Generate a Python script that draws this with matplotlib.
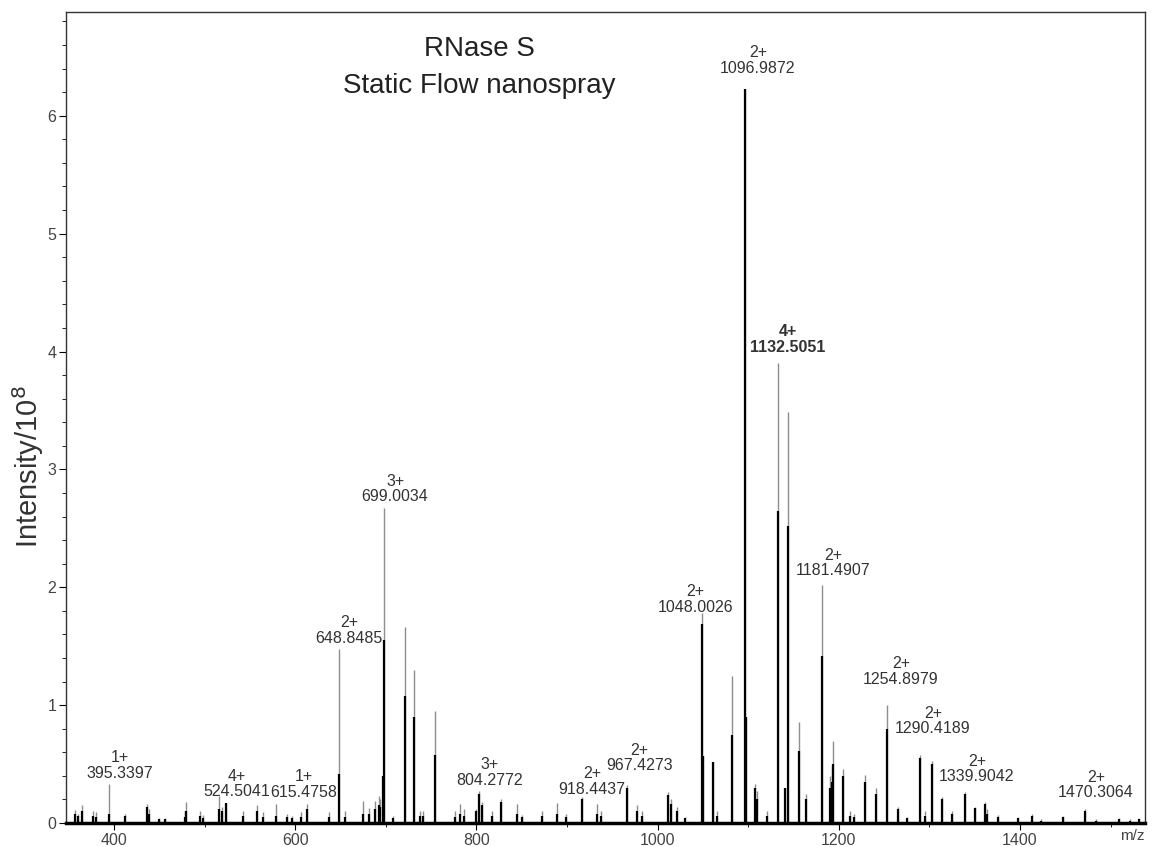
import matplotlib
matplotlib.use('Agg')
import matplotlib.pyplot as plt
from matplotlib.ticker import MultipleLocator

plt.rcParams['font.family'] = ['Liberation Sans', 'DejaVu Sans']

# peak list: m/z, full (grey) height, centroid (black) height, in 1e8 counts
peak_mz = [357, 360, 365, 377, 380, 394.5, 412, 436, 439, 450, 456, 478, 480, 495, 498,
           516, 519, 524, 542, 558, 564, 579, 591, 597, 606, 613, 637, 648.3, 655, 675,
           681, 688, 692, 694, 697, 698.5, 708, 721, 731, 738, 741, 754, 776, 782, 786,
           800, 803, 806, 817, 827, 845, 850, 872, 889, 899, 917, 933, 938, 966, 977,
           983, 1011, 1015, 1021, 1030, 1049, 1050, 1061, 1066, 1082, 1096.5, 1097.5, 1108, 1110, 1121,
           1133, 1141, 1144, 1156, 1164, 1181.5, 1190, 1192, 1194, 1205, 1212, 1217, 1229, 1241, 1253.5,
           1265, 1275, 1290, 1295, 1303, 1314, 1325, 1339, 1350, 1361, 1364, 1376, 1398, 1413, 1423,
           1448, 1472, 1484, 1509, 1522, 1531]
peak_full = [0.11, 0.08, 0.15, 0.10, 0.09, 0.33, 0.08, 0.16, 0.12, 0.04, 0.04, 0.10, 0.18, 0.10, 0.07,
             0.23, 0.14, 0.17, 0.10, 0.15, 0.09, 0.16, 0.08, 0.06, 0.09, 0.16, 0.09, 1.48, 0.10, 0.19,
             0.13, 0.19, 0.23, 0.20, 0.40, 2.67, 0.06, 1.66, 1.30, 0.10, 0.10, 0.95, 0.10, 0.16, 0.12,
             0.12, 0.27, 0.18, 0.10, 0.20, 0.16, 0.07, 0.10, 0.17, 0.08, 0.22, 0.16, 0.10, 0.32, 0.15,
             0.10, 0.26, 0.20, 0.14, 0.05, 1.78, 0.57, 0.52, 0.10, 1.25, 6.23, 0.90, 0.33, 0.27, 0.10,
             3.90, 0.30, 3.49, 0.86, 0.25, 2.02, 0.40, 0.48, 0.70, 0.46, 0.10, 0.08, 0.41, 0.30, 1.00,
             0.14, 0.05, 0.58, 0.10, 0.53, 0.22, 0.10, 0.26, 0.14, 0.18, 0.12, 0.07, 0.05, 0.08, 0.03,
             0.06, 0.115, 0.03, 0.04, 0.03, 0.04]
peak_centroid = [0.08, 0.06, 0.10, 0.06, 0.05, 0.08, 0.06, 0.14, 0.08, 0.03, 0.03, 0.05, 0.10, 0.06, 0.04,
                 0.12, 0.10, 0.17, 0.06, 0.10, 0.05, 0.06, 0.05, 0.04, 0.05, 0.12, 0.05, 0.42, 0.05, 0.08,
                 0.08, 0.12, 0.15, 0.14, 0.40, 1.55, 0.04, 1.08, 0.90, 0.06, 0.06, 0.58, 0.05, 0.08, 0.06,
                 0.10, 0.25, 0.15, 0.06, 0.18, 0.08, 0.05, 0.06, 0.08, 0.05, 0.20, 0.08, 0.06, 0.30, 0.10,
                 0.06, 0.24, 0.16, 0.10, 0.04, 1.69, 0.57, 0.52, 0.06, 0.75, 6.23, 0.90, 0.30, 0.20, 0.06,
                 2.65, 0.30, 2.52, 0.61, 0.20, 1.42, 0.30, 0.35, 0.50, 0.40, 0.06, 0.05, 0.35, 0.25, 0.80,
                 0.12, 0.04, 0.55, 0.06, 0.50, 0.20, 0.08, 0.25, 0.13, 0.16, 0.08, 0.05, 0.04, 0.06, 0.02,
                 0.05, 0.10, 0.02, 0.03, 0.02, 0.03]

# annotated ions: charge, m/z text, label centre (m/z, intensity)
label_charge = ['1+', '4+', '1+', '2+', '3+', '3+', '2+', '2+', '2+', '2+', '4+', '2+', '2+', '2+', '2+', '2+']
label_mz = ['395.3397', '524.5041', '615.4758', '648.8485', '699.0034', '804.2772', '918.4437',
            '967.4273', '1048.0026', '1096.9872', '1132.5051', '1181.4907', '1254.8979',
            '1290.4189', '1339.9042', '1470.3064']
label_x = [406.6, 535.8, 609.7, 659.4, 710.2, 815, 927.5, 980, 1041.8, 1110.8, 1143.9,
           1193.6, 1268.7, 1304, 1352.5, 1483.9]
label_y = [0.488, 0.331, 0.327, 1.634, 2.835, 0.429, 0.35, 0.55, 1.897, 6.469, 4.1,
           2.207, 1.286, 0.866, 0.458, 0.323]
bold_label = '1132.5051'

fig = plt.figure(figsize=(11.52, 8.47), dpi=100)
ax = fig.add_axes([0.0573, 0.0283, 0.9366, 0.9575])

ax.vlines(peak_mz, 0, peak_full, color='#8e8e8e', lw=1.0)
ax.vlines(peak_mz, 0, peak_centroid, color='black', lw=1.6)

for ch, txt, x, y in zip(label_charge, label_mz, label_x, label_y):
    ax.text(x, y, ch + '\n' + txt, ha='center', va='center', fontsize=11.5,
            color='#333333', linespacing=1.05,
            fontweight='bold' if txt == bold_label else 'normal')

ax.text(0.383, 0.955, 'RNase S', transform=ax.transAxes, ha='center', va='center',
        fontsize=20, color='#222222')
ax.text(0.383, 0.909, 'Static Flow nanospray', transform=ax.transAxes, ha='center',
        va='center', fontsize=20, color='#222222')

ax.set_xlim(347, 1538)
ax.set_ylim(0, 6.88)
ax.xaxis.set_minor_locator(MultipleLocator(100))
ax.yaxis.set_major_locator(MultipleLocator(1))
ax.yaxis.set_minor_locator(MultipleLocator(0.2))
ax.set_xticks([400, 600, 800, 1000, 1200, 1400])
ax.tick_params(axis='both', which='major', labelsize=11.5, labelcolor='#444444',
               length=5, width=0.8, pad=2)
ax.tick_params(axis='both', which='minor', length=3, width=0.6)
ax.set_ylabel('Intensity/10$^8$', fontsize=21, color='#333333')
ax.yaxis.set_label_coords(-0.019, 0.44)
ax.text(1.0, -0.016, 'm/z', transform=ax.transAxes, ha='right', va='center',
        fontsize=11, color='#444444')

for s in ax.spines.values():
    s.set_linewidth(1.0)
    s.set_color('#333333')
ax.spines['bottom'].set_linewidth(2.5)
ax.spines['bottom'].set_color('black')

fig.savefig('out.png', dpi=100)
